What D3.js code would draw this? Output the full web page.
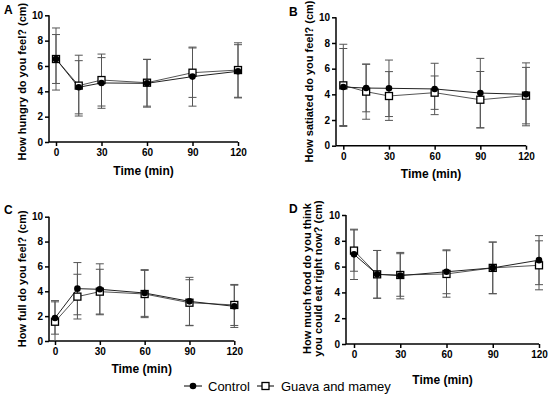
<!DOCTYPE html>
<meta charset="utf-8">
<style>
body { margin: 0; background: #fff; }
svg { font-family: "Liberation Sans", Arial, sans-serif; }
.axis path, .axis line { stroke: #000; stroke-width: 1.5px; }
.axis text { font-size: 10px; font-weight: bold; fill: #000; }
.ylab { font-size: 11px; font-weight: bold; }
.xlab { font-size: 12px; font-weight: bold; }
.letter { font-size: 12px; font-weight: bold; }
.legend text { font-size: 13px; }
.err { stroke: #555; stroke-width: 1px; fill: none; }
.ctrl-line { stroke: #222; stroke-width: 1px; fill: none; }
.guava-line { stroke: #555; stroke-width: 1px; fill: none; }
</style>
<body>
<script src="https://d3js.org/d3.v7.min.js"></script>
<script>

var width = 550,
    height = 398;

// time points (min) and tick labels
var times = [0, 15, 30, 60, 90, 120];
var xTicks = [0, 30, 60, 90, 120];
var yTicks = [0, 2, 4, 6, 8, 10];

// A - hunger
var hungryCtrl = [6.55, 4.32, 4.66, 4.63, 5.16, 5.58];
var hungryCtrlSd = [2.45, 2.1, 2.0, 1.88, 2.33, 2.1];
var hungryGuava = [6.55, 4.45, 4.89, 4.68, 5.47, 5.68];
var hungryGuavaSd = [1.93, 2.4, 2.05, 1.85, 1.95, 2.15];

// B - satiety
var satiatedCtrl = [4.57, 4.49, 4.47, 4.42, 4.1, 4.0];
var satiatedCtrlSd = [3.0, 1.85, 2.2, 2.0, 2.7, 2.45];
var satiatedGuava = [4.7, 4.21, 3.87, 4.13, 3.58, 3.9];
var satiatedGuavaSd = [3.2, 2.15, 1.9, 1.3, 2.2, 2.2];

// C - fullness
var fullCtrl = [1.85, 4.21, 4.16, 3.86, 3.19, 2.79];
var fullCtrlSd = [1.3, 2.1, 2.05, 1.88, 1.93, 1.7];
var fullGuava = [1.55, 3.57, 3.97, 3.78, 3.08, 2.9];
var fullGuavaSd = [1.7, 1.8, 1.8, 1.9, 1.85, 1.65];

// D - prospective food consumption
var foodCtrl = [6.95, 5.4, 5.3, 5.6, 5.9, 6.5];
var foodCtrlSd = [1.95, 1.85, 1.8, 1.7, 2.0, 1.9];
var foodGuava = [7.24, 5.4, 5.35, 5.43, 5.9, 6.1];
var foodGuavaSd = [1.6, 1.85, 1.65, 1.8, 2.0, 1.9];

var panels = [
  {letter: "A", lx: 4, ly: 14, axisX: 49, x0: 56, x1: 238, yTop: 15.3, yBot: 142, labX: 22, labShift: 3, timeY: 175,
   ylab: ["How hungry do you feel? (cm)"],
   ctrl: hungryCtrl, ctrlSd: hungryCtrlSd, guava: hungryGuava, guavaSd: hungryGuavaSd},
  {letter: "B", lx: 289, ly: 16, axisX: 336, x0: 343.3, x1: 526, yTop: 17.3, yBot: 145.7, labX: 309, labShift: 0, timeY: 178,
   ylab: ["How satiated do you feel? (cm)"],
   ctrl: satiatedCtrl, ctrlSd: satiatedCtrlSd, guava: satiatedGuava, guavaSd: satiatedGuavaSd},
  {letter: "C", lx: 4, ly: 214, axisX: 49, x0: 55, x1: 234.3, yTop: 216.7, yBot: 341, labX: 22, labShift: 0, timeY: 373,
   ylab: ["How full do you feel? (cm)"],
   ctrl: fullCtrl, ctrlSd: fullCtrlSd, guava: fullGuava, guavaSd: fullGuavaSd},
  {letter: "D", lx: 289, ly: 213, axisX: 346, x0: 354, x1: 539, yTop: 215, yBot: 344, labX: 312, labShift: -1, timeY: 384,
   ylab: ["How much food do you think", "you could eat right now? (cm)"],
   ctrl: foodCtrl, ctrlSd: foodCtrlSd, guava: foodGuava, guavaSd: foodGuavaSd}
];

var svg = d3.select("body").append("svg")
    .attr("width", width)
    .attr("height", height);

panels.forEach(function(p) {
  var g = svg.append("g");

  var x = d3.scaleLinear().domain([0, 120]).range([p.x0, p.x1]);
  var y = d3.scaleLinear().domain([0, 10]).range([p.yBot, p.yTop]);

  // axes
  var ya = g.append("g")
      .attr("class", "axis")
      .attr("transform", "translate(" + p.axisX + ",0)")
      .call(d3.axisLeft(y).tickValues(yTicks).tickSize(4).tickSizeOuter(0).tickPadding(2));
  ya.select(".domain").attr("d", "M0," + p.yBot + "V" + p.yTop);

  var xa = g.append("g")
      .attr("class", "axis")
      .attr("transform", "translate(0," + p.yBot + ")")
      .call(d3.axisBottom(x).tickValues(xTicks).tickSize(4).tickSizeOuter(0).tickPadding(3));
  xa.select(".domain").attr("d", "M" + p.axisX + ",0H" + p.x1);

  // error bars
  function errBars(mean, sd) {
    var eg = g.append("g");
    times.forEach(function(t, i) {
      var hi = mean[i] + sd[i], lo = Math.max(0, mean[i] - sd[i]);
      var cx = x(t);
      eg.append("line").attr("class", "err")
          .attr("x1", cx).attr("x2", cx).attr("y1", y(hi)).attr("y2", y(lo));
      eg.append("line").attr("class", "err")
          .attr("x1", cx - 4).attr("x2", cx + 4).attr("y1", y(hi)).attr("y2", y(hi));
      if (mean[i] - sd[i] > 0)
        eg.append("line").attr("class", "err")
            .attr("x1", cx - 4).attr("x2", cx + 4).attr("y1", y(lo)).attr("y2", y(lo));
    });
  }
  errBars(p.ctrl, p.ctrlSd);
  errBars(p.guava, p.guavaSd);

  var line = d3.line().x(function(d, i) { return x(times[i]); }).y(function(d) { return y(d); });

  g.append("path").datum(p.guava).attr("class", "guava-line").attr("d", line);
  g.append("path").datum(p.ctrl).attr("class", "ctrl-line").attr("d", line);

  g.selectAll(".sq").data(p.guava).enter().append("rect")
      .attr("x", function(d, i) { return x(times[i]) - 3.5; })
      .attr("y", function(d) { return y(d) - 3.5; })
      .attr("width", 7).attr("height", 7)
      .attr("fill", "#fff").attr("stroke", "#000").attr("stroke-width", 1.3);

  g.selectAll(".dot").data(p.ctrl).enter().append("circle")
      .attr("cx", function(d, i) { return x(times[i]); })
      .attr("cy", function(d) { return y(d); })
      .attr("r", 3.3)
      .attr("fill", "#000");

  // labels
  var yl = g.append("text")
      .attr("class", "ylab")
      .attr("text-anchor", "middle")
      .attr("transform", "translate(" + p.labX + "," + ((p.yTop + p.yBot) / 2 + p.labShift) + ") rotate(-90)");
  p.ylab.forEach(function(s, i) {
    yl.append("tspan").attr("x", 0)
        .attr("y", (i - (p.ylab.length - 1) / 2) * 11 + 4)
        .text(s);
  });

  g.append("text")
      .attr("class", "xlab")
      .attr("text-anchor", "middle")
      .attr("x", (p.axisX + p.x1) / 2)
      .attr("y", p.timeY)
      .text("Time (min)");

  g.append("text")
      .attr("class", "letter")
      .attr("x", p.lx)
      .attr("y", p.ly)
      .text(p.letter);
});

// legend
var leg = svg.append("g").attr("class", "legend").attr("transform", "translate(0,386)");
leg.append("line").attr("x1", 184).attr("x2", 202).attr("stroke", "#000");
leg.append("circle").attr("cx", 193).attr("r", 3.3).attr("fill", "#000");
leg.append("text").attr("x", 208).attr("y", 4.5).text("Control");
leg.append("line").attr("x1", 257).attr("x2", 274).attr("stroke", "#000");
leg.append("rect").attr("x", 262).attr("y", -3.5).attr("width", 7).attr("height", 7)
    .attr("fill", "#fff").attr("stroke", "#000").attr("stroke-width", 1.3);
leg.append("text").attr("x", 281).attr("y", 4.5).text("Guava and mamey");

</script>
